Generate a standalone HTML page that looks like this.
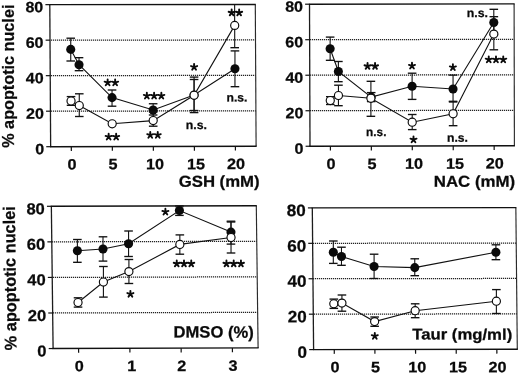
<!DOCTYPE html>
<html><head><meta charset="utf-8"><title>Figure</title>
<style>
html,body{margin:0;padding:0;background:#fff;}
body{width:520px;height:375px;overflow:hidden;}
svg{display:block;will-change:transform;}
text{font-family:"Liberation Sans",sans-serif;font-weight:bold;fill:#0a0a0a;stroke:#0a0a0a;stroke-width:0.25;}
.a{stroke:#0a0a0a;stroke-width:1.9;stroke-linecap:round;fill:none;}
.g{stroke:#222;stroke-width:1.25;stroke-dasharray:1.2 0.8;fill:none;}
.fr{stroke:#2a2a2a;stroke-width:1.15;fill:none;}
.fl{stroke:#1c1c1c;stroke-width:1.3;fill:none;}
.fh{stroke:#111;stroke-width:1.4;fill:none;}
.t{stroke:#111;stroke-width:1.2;}
.l{stroke:#111;stroke-width:1.1;fill:none;}
.e{stroke:#111;stroke-width:1.1;fill:none;}
.c{stroke:#111;stroke-width:1.35;fill:none;}
.mf{fill:#0a0a0a;}
.mo{fill:#fff;stroke:#0a0a0a;stroke-width:1.15;}
</style></head>
<body>
<svg width="520" height="375" viewBox="0 0 520 375">
<rect width="520" height="375" fill="#fff"/>
<line x1="51" y1="111.19" x2="255.90" y2="110.81" class="g"/>
<line x1="51" y1="75.67" x2="255.70" y2="75.38" class="g"/>
<line x1="51" y1="40.16" x2="255.50" y2="39.94" class="g"/>
<path d="M255.30 4.50L256.10 146.25" class="fr"/>
<path d="M49.80 4.65L50.65 146.70" class="fl"/>
<path d="M49.20 4.65L255.80 4.50M50.05 146.70L256.65 146.25" class="fh"/>
<line x1="46.25" y1="146.70" x2="50.65" y2="146.70" class="t"/>
<text transform="translate(35.22 154.20) rotate(0.03)" textLength="8.93" lengthAdjust="spacingAndGlyphs" font-size="15.0">0</text>
<line x1="46.04" y1="111.19" x2="50.44" y2="111.19" class="t"/>
<text transform="translate(26.08 118.69) rotate(0.03)" textLength="17.85" lengthAdjust="spacingAndGlyphs" font-size="15.0">20</text>
<line x1="45.82" y1="75.67" x2="50.22" y2="75.67" class="t"/>
<text transform="translate(25.87 83.17) rotate(0.03)" textLength="17.85" lengthAdjust="spacingAndGlyphs" font-size="15.0">40</text>
<line x1="45.61" y1="40.16" x2="50.01" y2="40.16" class="t"/>
<text transform="translate(25.66 47.66) rotate(0.03)" textLength="17.85" lengthAdjust="spacingAndGlyphs" font-size="15.0">60</text>
<line x1="45.40" y1="4.65" x2="49.80" y2="4.65" class="t"/>
<text transform="translate(25.45 12.15) rotate(0.03)" textLength="17.85" lengthAdjust="spacingAndGlyphs" font-size="15.0">80</text>
<line x1="71.30" y1="146.65" x2="71.34" y2="150.95" class="t"/>
<text transform="translate(67.50 169.45) rotate(0.03)" textLength="9.01" lengthAdjust="spacingAndGlyphs" font-size="15.0">0</text>
<line x1="112.32" y1="146.56" x2="112.36" y2="150.86" class="t"/>
<text transform="translate(108.52 169.36) rotate(0.03)" textLength="9.01" lengthAdjust="spacingAndGlyphs" font-size="15.0">5</text>
<line x1="153.35" y1="146.48" x2="153.39" y2="150.78" class="t"/>
<text transform="translate(146.04 169.28) rotate(0.03)" textLength="18.02" lengthAdjust="spacingAndGlyphs" font-size="15.0">10</text>
<line x1="194.38" y1="146.39" x2="194.41" y2="150.69" class="t"/>
<text transform="translate(187.07 169.19) rotate(0.03)" textLength="18.02" lengthAdjust="spacingAndGlyphs" font-size="15.0">15</text>
<line x1="235.40" y1="146.30" x2="235.44" y2="150.60" class="t"/>
<text transform="translate(227.09 169.10) rotate(0.03)" textLength="18.02" lengthAdjust="spacingAndGlyphs" font-size="15.0">20</text>
<path d="M70.74 49.40L79.03 64.70L112.04 97.60L153.14 110.00L194.08 95.00L234.95 68.70" class="l"/>
<path d="M70.74 38.20V49.40" class="e"/><path d="M66.44 38.20H75.04" class="c"/>
<path d="M70.74 61.00V49.40" class="e"/><path d="M66.44 61.00H75.04" class="c"/>
<path d="M79.03 57.70V64.70" class="e"/><path d="M74.73 57.70H83.33" class="c"/>
<path d="M79.03 70.70V64.70" class="e"/><path d="M74.73 70.70H83.33" class="c"/>
<path d="M112.04 90.00V97.60" class="e"/><path d="M107.74 90.00H116.34" class="c"/>
<path d="M112.04 106.20V97.60" class="e"/><path d="M107.74 106.20H116.34" class="c"/>
<path d="M153.14 103.75V110.00" class="e"/><path d="M148.84 103.75H157.44" class="c"/>
<path d="M153.14 115.00V110.00" class="e"/><path d="M148.84 115.00H157.44" class="c"/>
<path d="M194.08 79.50V95.00" class="e"/><path d="M189.78 79.50H198.38" class="c"/>
<path d="M194.08 110.50V95.00" class="e"/><path d="M189.78 110.50H198.38" class="c"/>
<path d="M234.95 50.90V68.70" class="e"/><path d="M230.65 50.90H239.25" class="c"/>
<path d="M234.95 86.70V68.70" class="e"/><path d="M230.65 86.70H239.25" class="c"/>
<circle cx="70.74" cy="49.40" r="4.55" class="mf"/>
<circle cx="79.03" cy="64.70" r="4.55" class="mf"/>
<circle cx="112.04" cy="97.60" r="4.55" class="mf"/>
<circle cx="153.14" cy="110.00" r="4.55" class="mf"/>
<circle cx="194.08" cy="95.00" r="4.55" class="mf"/>
<circle cx="234.95" cy="68.70" r="4.55" class="mf"/>
<path d="M234.64 4.6V25" class="e"/>
<path d="M71.04 100.90L79.27 105.60L112.19 123.80L153.20 120.60L194.08 95.30L234.70 25.40" class="l"/>
<path d="M71.04 96.60V100.90" class="e"/><path d="M66.74 96.60H75.34" class="c"/>
<path d="M71.04 105.30V100.90" class="e"/><path d="M66.74 105.30H75.34" class="c"/>
<path d="M79.27 93.80V105.60" class="e"/><path d="M74.97 93.80H83.57" class="c"/>
<path d="M79.27 116.50V105.60" class="e"/><path d="M74.97 116.50H83.57" class="c"/>
<path d="M153.20 112.00V120.60" class="e"/><path d="M148.90 112.00H157.50" class="c"/>
<path d="M153.20 126.20V120.60" class="e"/><path d="M148.90 126.20H157.50" class="c"/>
<path d="M194.08 77.10V95.30" class="e"/><path d="M189.78 77.10H198.38" class="c"/>
<path d="M194.08 112.60V95.30" class="e"/><path d="M189.78 112.60H198.38" class="c"/>
<path d="M234.70 47.70V25.40" class="e"/><path d="M230.40 47.70H239.00" class="c"/>
<circle cx="71.04" cy="100.90" r="4.05" class="mo"/>
<circle cx="79.27" cy="105.60" r="4.05" class="mo"/>
<circle cx="112.19" cy="123.80" r="4.05" class="mo"/>
<circle cx="153.20" cy="120.60" r="4.05" class="mo"/>
<circle cx="194.08" cy="95.30" r="4.05" class="mo"/>
<circle cx="234.70" cy="25.40" r="4.05" class="mo"/>
<path d="M107.65 82.65L107.65 79.45M107.65 82.65L110.69 81.66M107.65 82.65L109.53 85.24M107.65 82.65L105.77 85.24M107.65 82.65L104.61 81.66M115.15 82.65L115.15 79.45M115.15 82.65L118.19 81.66M115.15 82.65L117.03 85.24M115.15 82.65L113.27 85.24M115.15 82.65L112.11 81.66" class="a"/>
<path d="M108.65 136.95L108.65 133.75M108.65 136.95L111.69 135.96M108.65 136.95L110.53 139.54M108.65 136.95L106.77 139.54M108.65 136.95L105.61 135.96M116.15 136.95L116.15 133.75M116.15 136.95L119.19 135.96M116.15 136.95L118.03 139.54M116.15 136.95L114.27 139.54M116.15 136.95L113.11 135.96" class="a"/>
<path d="M146.85 95.85L146.85 92.65M146.85 95.85L149.89 94.86M146.85 95.85L148.73 98.44M146.85 95.85L144.97 98.44M146.85 95.85L143.81 94.86M154.10 95.85L154.10 92.65M154.10 95.85L157.14 94.86M154.10 95.85L155.98 98.44M154.10 95.85L152.22 98.44M154.10 95.85L151.06 94.86M161.35 95.85L161.35 92.65M161.35 95.85L164.39 94.86M161.35 95.85L163.23 98.44M161.35 95.85L159.47 98.44M161.35 95.85L158.31 94.86" class="a"/>
<path d="M150.25 135.15L150.25 131.95M150.25 135.15L153.29 134.16M150.25 135.15L152.13 137.74M150.25 135.15L148.37 137.74M150.25 135.15L147.21 134.16M157.75 135.15L157.75 131.95M157.75 135.15L160.79 134.16M157.75 135.15L159.63 137.74M157.75 135.15L155.87 137.74M157.75 135.15L154.71 134.16" class="a"/>
<path d="M194.10 67.05L194.10 63.85M194.10 67.05L197.14 66.06M194.10 67.05L195.98 69.64M194.10 67.05L192.22 69.64M194.10 67.05L191.06 66.06" class="a"/>
<path d="M231.65 12.75L231.65 9.55M231.65 12.75L234.69 11.76M231.65 12.75L233.53 15.34M231.65 12.75L229.77 15.34M231.65 12.75L228.61 11.76M239.15 12.75L239.15 9.55M239.15 12.75L242.19 11.76M239.15 12.75L241.03 15.34M239.15 12.75L237.27 15.34M239.15 12.75L236.11 11.76" class="a"/>
<text transform="translate(185.80 129.10) rotate(0.03)" textLength="21.20" lengthAdjust="spacingAndGlyphs" font-size="12.0">n.s.</text>
<text transform="translate(226.50 101.50) rotate(0.03)" textLength="20.90" lengthAdjust="spacingAndGlyphs" font-size="12.0">n.s.</text>
<text transform="translate(178.70 186.70) rotate(0.03)" textLength="80.90" lengthAdjust="spacingAndGlyphs" font-size="15.8">GSH (mM)</text>
<text transform="translate(14.00 147.80) rotate(-90.0)" textLength="143.2" lengthAdjust="spacingAndGlyphs" font-size="16.8">% apoptotic nuclei</text>
<line x1="310" y1="110.74" x2="514.33" y2="110.28" class="g"/>
<line x1="310" y1="75.22" x2="514.25" y2="74.80" class="g"/>
<line x1="310" y1="39.71" x2="514.17" y2="39.32" class="g"/>
<path d="M514.10 3.85L514.40 145.75" class="fr"/>
<path d="M309.50 4.20L310.00 146.25" class="fl"/>
<path d="M308.90 4.20L514.60 3.85M309.40 146.25L514.95 145.75" class="fh"/>
<line x1="305.60" y1="146.25" x2="310.00" y2="146.25" class="t"/>
<text transform="translate(294.57 153.75) rotate(0.03)" textLength="8.93" lengthAdjust="spacingAndGlyphs" font-size="15.0">0</text>
<line x1="305.48" y1="110.74" x2="309.88" y2="110.74" class="t"/>
<text transform="translate(285.52 118.24) rotate(0.03)" textLength="17.85" lengthAdjust="spacingAndGlyphs" font-size="15.0">20</text>
<line x1="305.35" y1="75.22" x2="309.75" y2="75.22" class="t"/>
<text transform="translate(285.40 82.72) rotate(0.03)" textLength="17.85" lengthAdjust="spacingAndGlyphs" font-size="15.0">40</text>
<line x1="305.23" y1="39.71" x2="309.62" y2="39.71" class="t"/>
<text transform="translate(285.27 47.21) rotate(0.03)" textLength="17.85" lengthAdjust="spacingAndGlyphs" font-size="15.0">60</text>
<line x1="305.10" y1="4.20" x2="309.50" y2="4.20" class="t"/>
<text transform="translate(285.15 11.70) rotate(0.03)" textLength="17.85" lengthAdjust="spacingAndGlyphs" font-size="15.0">80</text>
<line x1="330.40" y1="146.20" x2="330.44" y2="150.50" class="t"/>
<text transform="translate(326.60 169.00) rotate(0.03)" textLength="9.01" lengthAdjust="spacingAndGlyphs" font-size="15.0">0</text>
<line x1="371.34" y1="146.10" x2="371.38" y2="150.40" class="t"/>
<text transform="translate(367.53 168.90) rotate(0.03)" textLength="9.01" lengthAdjust="spacingAndGlyphs" font-size="15.0">5</text>
<line x1="412.27" y1="146.00" x2="412.31" y2="150.30" class="t"/>
<text transform="translate(404.97 168.80) rotate(0.03)" textLength="18.02" lengthAdjust="spacingAndGlyphs" font-size="15.0">10</text>
<line x1="453.21" y1="145.90" x2="453.25" y2="150.20" class="t"/>
<text transform="translate(445.90 168.70) rotate(0.03)" textLength="18.02" lengthAdjust="spacingAndGlyphs" font-size="15.0">15</text>
<line x1="494.15" y1="145.80" x2="494.19" y2="150.10" class="t"/>
<text transform="translate(485.84 168.60) rotate(0.03)" textLength="18.02" lengthAdjust="spacingAndGlyphs" font-size="15.0">20</text>
<path d="M330.13 48.70L338.38 71.50L371.20 97.10L412.11 86.20L453.05 89.00L493.80 22.50" class="l"/>
<path d="M330.13 37.10V48.70" class="e"/><path d="M325.83 37.10H334.43" class="c"/>
<path d="M330.13 60.30V48.70" class="e"/><path d="M325.83 60.30H334.43" class="c"/>
<path d="M338.38 61.50V71.50" class="e"/><path d="M334.08 61.50H342.68" class="c"/>
<path d="M338.38 81.70V71.50" class="e"/><path d="M334.08 81.70H342.68" class="c"/>
<path d="M371.20 92.60V97.10" class="e"/><path d="M366.90 92.60H375.50" class="c"/>
<path d="M371.20 101.60V97.10" class="e"/><path d="M366.90 101.60H375.50" class="c"/>
<path d="M412.11 73.20V86.20" class="e"/><path d="M407.81 73.20H416.41" class="c"/>
<path d="M412.11 99.40V86.20" class="e"/><path d="M407.81 99.40H416.41" class="c"/>
<path d="M453.05 75.10V89.00" class="e"/><path d="M448.75 75.10H457.35" class="c"/>
<path d="M453.05 101.30V89.00" class="e"/><path d="M448.75 101.30H457.35" class="c"/>
<path d="M493.80 9.30V22.50" class="e"/><path d="M489.50 9.30H498.10" class="c"/>
<path d="M493.80 34.70V22.50" class="e"/><path d="M489.50 34.70H498.10" class="c"/>
<circle cx="330.13" cy="48.70" r="4.55" class="mf"/>
<circle cx="338.38" cy="71.50" r="4.55" class="mf"/>
<circle cx="371.20" cy="97.10" r="4.55" class="mf"/>
<circle cx="412.11" cy="86.20" r="4.55" class="mf"/>
<circle cx="453.05" cy="89.00" r="4.55" class="mf"/>
<circle cx="493.80" cy="22.50" r="4.55" class="mf"/>
<path d="M330.27 100.60L338.45 95.50L370.90 98.30L412.21 122.20L453.12 113.80L493.83 34.10" class="l"/>
<path d="M330.27 96.70V100.60" class="e"/><path d="M325.97 96.70H334.57" class="c"/>
<path d="M330.27 104.50V100.60" class="e"/><path d="M325.97 104.50H334.57" class="c"/>
<path d="M338.45 85.20V95.50" class="e"/><path d="M334.15 85.20H342.75" class="c"/>
<path d="M338.45 105.70V95.50" class="e"/><path d="M334.15 105.70H342.75" class="c"/>
<path d="M370.90 81.30V98.30" class="e"/><path d="M366.60 81.30H375.20" class="c"/>
<path d="M370.90 116.30V98.30" class="e"/><path d="M366.60 116.30H375.20" class="c"/>
<path d="M412.21 114.50V122.20" class="e"/><path d="M407.91 114.50H416.51" class="c"/>
<path d="M412.21 129.60V122.20" class="e"/><path d="M407.91 129.60H416.51" class="c"/>
<path d="M453.12 102.00V113.80" class="e"/><path d="M448.82 102.00H457.42" class="c"/>
<path d="M453.12 125.70V113.80" class="e"/><path d="M448.82 125.70H457.42" class="c"/>
<path d="M493.83 16.70V34.10" class="e"/><path d="M489.53 16.70H498.13" class="c"/>
<path d="M493.83 49.80V34.10" class="e"/><path d="M489.53 49.80H498.13" class="c"/>
<circle cx="330.27" cy="100.60" r="4.05" class="mo"/>
<circle cx="338.45" cy="95.50" r="4.05" class="mo"/>
<circle cx="370.90" cy="98.30" r="4.05" class="mo"/>
<circle cx="412.21" cy="122.20" r="4.05" class="mo"/>
<circle cx="453.12" cy="113.80" r="4.05" class="mo"/>
<circle cx="493.83" cy="34.10" r="4.05" class="mo"/>
<path d="M367.55 66.25L367.55 63.05M367.55 66.25L370.59 65.26M367.55 66.25L369.43 68.84M367.55 66.25L365.67 68.84M367.55 66.25L364.51 65.26M375.05 66.25L375.05 63.05M375.05 66.25L378.09 65.26M375.05 66.25L376.93 68.84M375.05 66.25L373.17 68.84M375.05 66.25L372.01 65.26" class="a"/>
<path d="M412.00 65.85L412.00 62.65M412.00 65.85L415.04 64.86M412.00 65.85L413.88 68.44M412.00 65.85L410.12 68.44M412.00 65.85L408.96 64.86" class="a"/>
<path d="M413.50 139.65L413.50 136.45M413.50 139.65L416.54 138.66M413.50 139.65L415.38 142.24M413.50 139.65L411.62 142.24M413.50 139.65L410.46 138.66" class="a"/>
<path d="M452.90 67.35L452.90 64.15M452.90 67.35L455.94 66.36M452.90 67.35L454.78 69.94M452.90 67.35L451.02 69.94M452.90 67.35L449.86 66.36" class="a"/>
<path d="M488.75 59.65L488.75 56.45M488.75 59.65L491.79 58.66M488.75 59.65L490.63 62.24M488.75 59.65L486.87 62.24M488.75 59.65L485.71 58.66M496.00 59.65L496.00 56.45M496.00 59.65L499.04 58.66M496.00 59.65L497.88 62.24M496.00 59.65L494.12 62.24M496.00 59.65L492.96 58.66M503.25 59.65L503.25 56.45M503.25 59.65L506.29 58.66M503.25 59.65L505.13 62.24M503.25 59.65L501.37 62.24M503.25 59.65L500.21 58.66" class="a"/>
<text transform="translate(366.10 136.00) rotate(0.03)" textLength="20.30" lengthAdjust="spacingAndGlyphs" font-size="12.0">n.s.</text>
<text transform="translate(447.00 141.80) rotate(0.03)" textLength="21.00" lengthAdjust="spacingAndGlyphs" font-size="12.0">n.s.</text>
<text transform="translate(466.80 17.00) rotate(0.03)" textLength="21.20" lengthAdjust="spacingAndGlyphs" font-size="12.0">n.s.</text>
<text transform="translate(433.70 186.80) rotate(0.03)" textLength="81.50" lengthAdjust="spacingAndGlyphs" font-size="15.8">NAC (mM)</text>
<line x1="53" y1="312.99" x2="257.65" y2="312.36" class="g"/>
<line x1="53" y1="277.43" x2="257.20" y2="276.82" class="g"/>
<line x1="52" y1="241.86" x2="256.75" y2="241.29" class="g"/>
<path d="M256.30 205.75L258.10 347.90" class="fr"/>
<path d="M51.35 206.30L53.10 348.55" class="fl"/>
<path d="M50.75 206.30L256.80 205.75M52.50 348.55L258.65 347.90" class="fh"/>
<line x1="48.70" y1="348.55" x2="53.10" y2="348.55" class="t"/>
<text transform="translate(37.37 356.45) rotate(0.03)" textLength="9.23" lengthAdjust="spacingAndGlyphs" font-size="15.8">0</text>
<line x1="48.26" y1="312.99" x2="52.66" y2="312.99" class="t"/>
<text transform="translate(27.71 320.89) rotate(0.03)" textLength="18.45" lengthAdjust="spacingAndGlyphs" font-size="15.8">20</text>
<line x1="47.83" y1="277.43" x2="52.23" y2="277.43" class="t"/>
<text transform="translate(27.27 285.32) rotate(0.03)" textLength="18.45" lengthAdjust="spacingAndGlyphs" font-size="15.8">40</text>
<line x1="47.39" y1="241.86" x2="51.79" y2="241.86" class="t"/>
<text transform="translate(26.83 249.76) rotate(0.03)" textLength="18.45" lengthAdjust="spacingAndGlyphs" font-size="15.8">60</text>
<line x1="46.95" y1="206.30" x2="51.35" y2="206.30" class="t"/>
<text transform="translate(26.40 214.20) rotate(0.03)" textLength="18.45" lengthAdjust="spacingAndGlyphs" font-size="15.8">80</text>
<line x1="78.60" y1="348.47" x2="78.64" y2="352.77" class="t"/>
<text transform="translate(74.80 371.27) rotate(0.03)" textLength="9.01" lengthAdjust="spacingAndGlyphs" font-size="15.0">0</text>
<line x1="129.87" y1="348.31" x2="129.91" y2="352.61" class="t"/>
<text transform="translate(127.27 371.11) rotate(0.03)" textLength="9.01" lengthAdjust="spacingAndGlyphs" font-size="15.0">1</text>
<line x1="181.14" y1="348.14" x2="181.18" y2="352.44" class="t"/>
<text transform="translate(177.34 370.94) rotate(0.03)" textLength="9.01" lengthAdjust="spacingAndGlyphs" font-size="15.0">2</text>
<line x1="232.41" y1="347.98" x2="232.45" y2="352.28" class="t"/>
<text transform="translate(228.61 370.78) rotate(0.03)" textLength="9.01" lengthAdjust="spacingAndGlyphs" font-size="15.0">3</text>
<path d="M77.38 250.70L103.00 249.00L128.57 243.70L179.42 210.50L230.96 232.10" class="l"/>
<path d="M77.38 239.50V250.70" class="e"/><path d="M73.08 239.50H81.68" class="c"/>
<path d="M77.38 262.30V250.70" class="e"/><path d="M73.08 262.30H81.68" class="c"/>
<path d="M103.00 236.80V249.00" class="e"/><path d="M98.70 236.80H107.30" class="c"/>
<path d="M103.00 261.10V249.00" class="e"/><path d="M98.70 261.10H107.30" class="c"/>
<path d="M128.57 231.00V243.70" class="e"/><path d="M124.27 231.00H132.87" class="c"/>
<path d="M128.57 256.50V243.70" class="e"/><path d="M124.27 256.50H132.87" class="c"/>
<path d="M179.42 206.00V210.50" class="e"/><path d="M175.12 206.00H183.72" class="c"/>
<path d="M179.42 215.40V210.50" class="e"/><path d="M175.12 215.40H183.72" class="c"/>
<path d="M230.96 221.20V232.10" class="e"/><path d="M226.66 221.20H235.26" class="c"/>
<path d="M230.96 244.10V232.10" class="e"/><path d="M226.66 244.10H235.26" class="c"/>
<circle cx="77.38" cy="250.70" r="4.55" class="mf"/>
<circle cx="103.00" cy="249.00" r="4.55" class="mf"/>
<circle cx="128.57" cy="243.70" r="4.55" class="mf"/>
<circle cx="179.42" cy="210.50" r="4.55" class="mf"/>
<circle cx="230.96" cy="232.10" r="4.55" class="mf"/>
<path d="M78.03 302.50L103.41 282.00L128.91 271.60L179.84 244.40L231.03 237.50" class="l"/>
<path d="M78.03 297.80V302.50" class="e"/><path d="M73.73 297.80H82.33" class="c"/>
<path d="M78.03 307.10V302.50" class="e"/><path d="M73.73 307.10H82.33" class="c"/>
<path d="M103.41 266.50V282.00" class="e"/><path d="M99.11 266.50H107.71" class="c"/>
<path d="M103.41 297.10V282.00" class="e"/><path d="M99.11 297.10H107.71" class="c"/>
<path d="M128.91 259.50V271.60" class="e"/><path d="M124.61 259.50H133.21" class="c"/>
<path d="M128.91 283.50V271.60" class="e"/><path d="M124.61 283.50H133.21" class="c"/>
<path d="M179.84 234.90V244.40" class="e"/><path d="M175.54 234.90H184.14" class="c"/>
<path d="M179.84 254.20V244.40" class="e"/><path d="M175.54 254.20H184.14" class="c"/>
<path d="M231.03 222.00V237.50" class="e"/><path d="M226.73 222.00H235.33" class="c"/>
<path d="M231.03 253.00V237.50" class="e"/><path d="M226.73 253.00H235.33" class="c"/>
<circle cx="78.03" cy="302.50" r="4.05" class="mo"/>
<circle cx="103.41" cy="282.00" r="4.05" class="mo"/>
<circle cx="128.91" cy="271.60" r="4.05" class="mo"/>
<circle cx="179.84" cy="244.40" r="4.05" class="mo"/>
<circle cx="231.03" cy="237.50" r="4.05" class="mo"/>
<path d="M165.40 211.95L165.40 208.75M165.40 211.95L168.44 210.96M165.40 211.95L167.28 214.54M165.40 211.95L163.52 214.54M165.40 211.95L162.36 210.96" class="a"/>
<path d="M130.40 294.05L130.40 290.85M130.40 294.05L133.44 293.06M130.40 294.05L132.28 296.64M130.40 294.05L128.52 296.64M130.40 294.05L127.36 293.06" class="a"/>
<path d="M176.75 263.75L176.75 260.55M176.75 263.75L179.79 262.76M176.75 263.75L178.63 266.34M176.75 263.75L174.87 266.34M176.75 263.75L173.71 262.76M184.00 263.75L184.00 260.55M184.00 263.75L187.04 262.76M184.00 263.75L185.88 266.34M184.00 263.75L182.12 266.34M184.00 263.75L180.96 262.76M191.25 263.75L191.25 260.55M191.25 263.75L194.29 262.76M191.25 263.75L193.13 266.34M191.25 263.75L189.37 266.34M191.25 263.75L188.21 262.76" class="a"/>
<path d="M226.45 263.75L226.45 260.55M226.45 263.75L229.49 262.76M226.45 263.75L228.33 266.34M226.45 263.75L224.57 266.34M226.45 263.75L223.41 262.76M233.70 263.75L233.70 260.55M233.70 263.75L236.74 262.76M233.70 263.75L235.58 266.34M233.70 263.75L231.82 266.34M233.70 263.75L230.66 262.76M240.95 263.75L240.95 260.55M240.95 263.75L243.99 262.76M240.95 263.75L242.83 266.34M240.95 263.75L239.07 266.34M240.95 263.75L237.91 262.76" class="a"/>
<text transform="translate(173.60 337.60) rotate(0.03)" textLength="80.10" lengthAdjust="spacingAndGlyphs" font-size="16.4">DMSO (%)</text>
<text transform="translate(16.60 350.20) rotate(-90.7)" textLength="144.0" lengthAdjust="spacingAndGlyphs" font-size="16.8">% apoptotic nuclei</text>
<line x1="314" y1="314.18" x2="516.94" y2="313.88" class="g"/>
<line x1="313" y1="278.75" x2="516.58" y2="278.45" class="g"/>
<line x1="313" y1="243.33" x2="516.21" y2="243.03" class="g"/>
<path d="M515.85 207.60L517.30 349.30" class="fr"/>
<path d="M312.30 207.90L313.60 349.60" class="fl"/>
<path d="M311.70 207.90L516.35 207.60M313.00 349.60L517.85 349.30" class="fh"/>
<line x1="309.20" y1="349.60" x2="313.60" y2="349.60" class="t"/>
<text transform="translate(297.61 357.70) rotate(0.03)" textLength="9.49" lengthAdjust="spacingAndGlyphs" font-size="16.4">0</text>
<line x1="308.88" y1="314.18" x2="313.28" y2="314.18" class="t"/>
<text transform="translate(287.80 322.28) rotate(0.03)" textLength="18.97" lengthAdjust="spacingAndGlyphs" font-size="16.4">20</text>
<line x1="308.55" y1="278.75" x2="312.95" y2="278.75" class="t"/>
<text transform="translate(287.48 286.85) rotate(0.03)" textLength="18.97" lengthAdjust="spacingAndGlyphs" font-size="16.4">40</text>
<line x1="308.23" y1="243.33" x2="312.62" y2="243.33" class="t"/>
<text transform="translate(287.15 251.43) rotate(0.03)" textLength="18.97" lengthAdjust="spacingAndGlyphs" font-size="16.4">60</text>
<line x1="307.90" y1="207.90" x2="312.30" y2="207.90" class="t"/>
<text transform="translate(286.83 216.00) rotate(0.03)" textLength="18.97" lengthAdjust="spacingAndGlyphs" font-size="16.4">80</text>
<line x1="334.25" y1="349.57" x2="334.29" y2="353.87" class="t"/>
<text transform="translate(330.45 372.37) rotate(0.03)" textLength="9.01" lengthAdjust="spacingAndGlyphs" font-size="15.0">0</text>
<line x1="374.90" y1="349.51" x2="374.94" y2="353.81" class="t"/>
<text transform="translate(371.10 372.31) rotate(0.03)" textLength="9.01" lengthAdjust="spacingAndGlyphs" font-size="15.0">5</text>
<line x1="415.55" y1="349.45" x2="415.59" y2="353.75" class="t"/>
<text transform="translate(408.24 372.25) rotate(0.03)" textLength="18.02" lengthAdjust="spacingAndGlyphs" font-size="15.0">10</text>
<line x1="456.20" y1="349.39" x2="456.24" y2="353.69" class="t"/>
<text transform="translate(448.89 372.19) rotate(0.03)" textLength="18.02" lengthAdjust="spacingAndGlyphs" font-size="15.0">15</text>
<line x1="496.85" y1="349.33" x2="496.89" y2="353.63" class="t"/>
<text transform="translate(488.54 372.13) rotate(0.03)" textLength="18.02" lengthAdjust="spacingAndGlyphs" font-size="15.0">20</text>
<path d="M333.31 252.30L341.48 256.50L374.10 266.50L414.76 267.60L495.91 252.20" class="l"/>
<path d="M333.31 241.00V252.30" class="e"/><path d="M329.01 241.00H337.61" class="c"/>
<path d="M333.31 263.40V252.30" class="e"/><path d="M329.01 263.40H337.61" class="c"/>
<path d="M341.48 247.20V256.50" class="e"/><path d="M337.18 247.20H345.78" class="c"/>
<path d="M341.48 265.30V256.50" class="e"/><path d="M337.18 265.30H345.78" class="c"/>
<path d="M374.10 254.20V266.50" class="e"/><path d="M369.80 254.20H378.40" class="c"/>
<path d="M374.10 278.50V266.50" class="e"/><path d="M369.80 278.50H378.40" class="c"/>
<path d="M414.76 258.80V267.60" class="e"/><path d="M410.46 258.80H419.06" class="c"/>
<path d="M414.76 275.70V267.60" class="e"/><path d="M410.46 275.70H419.06" class="c"/>
<path d="M495.91 244.80V252.20" class="e"/><path d="M491.61 244.80H500.21" class="c"/>
<path d="M495.91 259.70V252.20" class="e"/><path d="M491.61 259.70H500.21" class="c"/>
<circle cx="333.31" cy="252.30" r="4.55" class="mf"/>
<circle cx="341.48" cy="256.50" r="4.55" class="mf"/>
<circle cx="374.10" cy="266.50" r="4.55" class="mf"/>
<circle cx="414.76" cy="267.60" r="4.55" class="mf"/>
<circle cx="495.91" cy="252.20" r="4.55" class="mf"/>
<path d="M333.81 303.80L341.93 303.10L374.63 321.60L415.17 310.70L496.38 301.20" class="l"/>
<path d="M333.81 299.10V303.80" class="e"/><path d="M329.51 299.10H338.11" class="c"/>
<path d="M333.81 308.40V303.80" class="e"/><path d="M329.51 308.40H338.11" class="c"/>
<path d="M341.93 295.00V303.10" class="e"/><path d="M337.63 295.00H346.23" class="c"/>
<path d="M341.93 311.20V303.10" class="e"/><path d="M337.63 311.20H346.23" class="c"/>
<path d="M374.63 317.00V321.60" class="e"/><path d="M370.33 317.00H378.93" class="c"/>
<path d="M374.63 326.30V321.60" class="e"/><path d="M370.33 326.30H378.93" class="c"/>
<path d="M415.17 303.80V310.70" class="e"/><path d="M410.87 303.80H419.47" class="c"/>
<path d="M415.17 317.70V310.70" class="e"/><path d="M410.87 317.70H419.47" class="c"/>
<path d="M496.38 289.60V301.20" class="e"/><path d="M492.08 289.60H500.68" class="c"/>
<path d="M496.38 313.50V301.20" class="e"/><path d="M492.08 313.50H500.68" class="c"/>
<circle cx="333.81" cy="303.80" r="4.05" class="mo"/>
<circle cx="341.93" cy="303.10" r="4.05" class="mo"/>
<circle cx="374.63" cy="321.60" r="4.05" class="mo"/>
<circle cx="415.17" cy="310.70" r="4.05" class="mo"/>
<circle cx="496.38" cy="301.20" r="4.05" class="mo"/>
<path d="M374.80 336.15L374.80 332.95M374.80 336.15L377.84 335.16M374.80 336.15L376.68 338.74M374.80 336.15L372.92 338.74M374.80 336.15L371.76 335.16" class="a"/>
<text transform="translate(412.20 339.60) rotate(0.03)" textLength="100.00" lengthAdjust="spacingAndGlyphs" font-size="15.5">Taur (mg/ml)</text>
</svg>
</body></html>
